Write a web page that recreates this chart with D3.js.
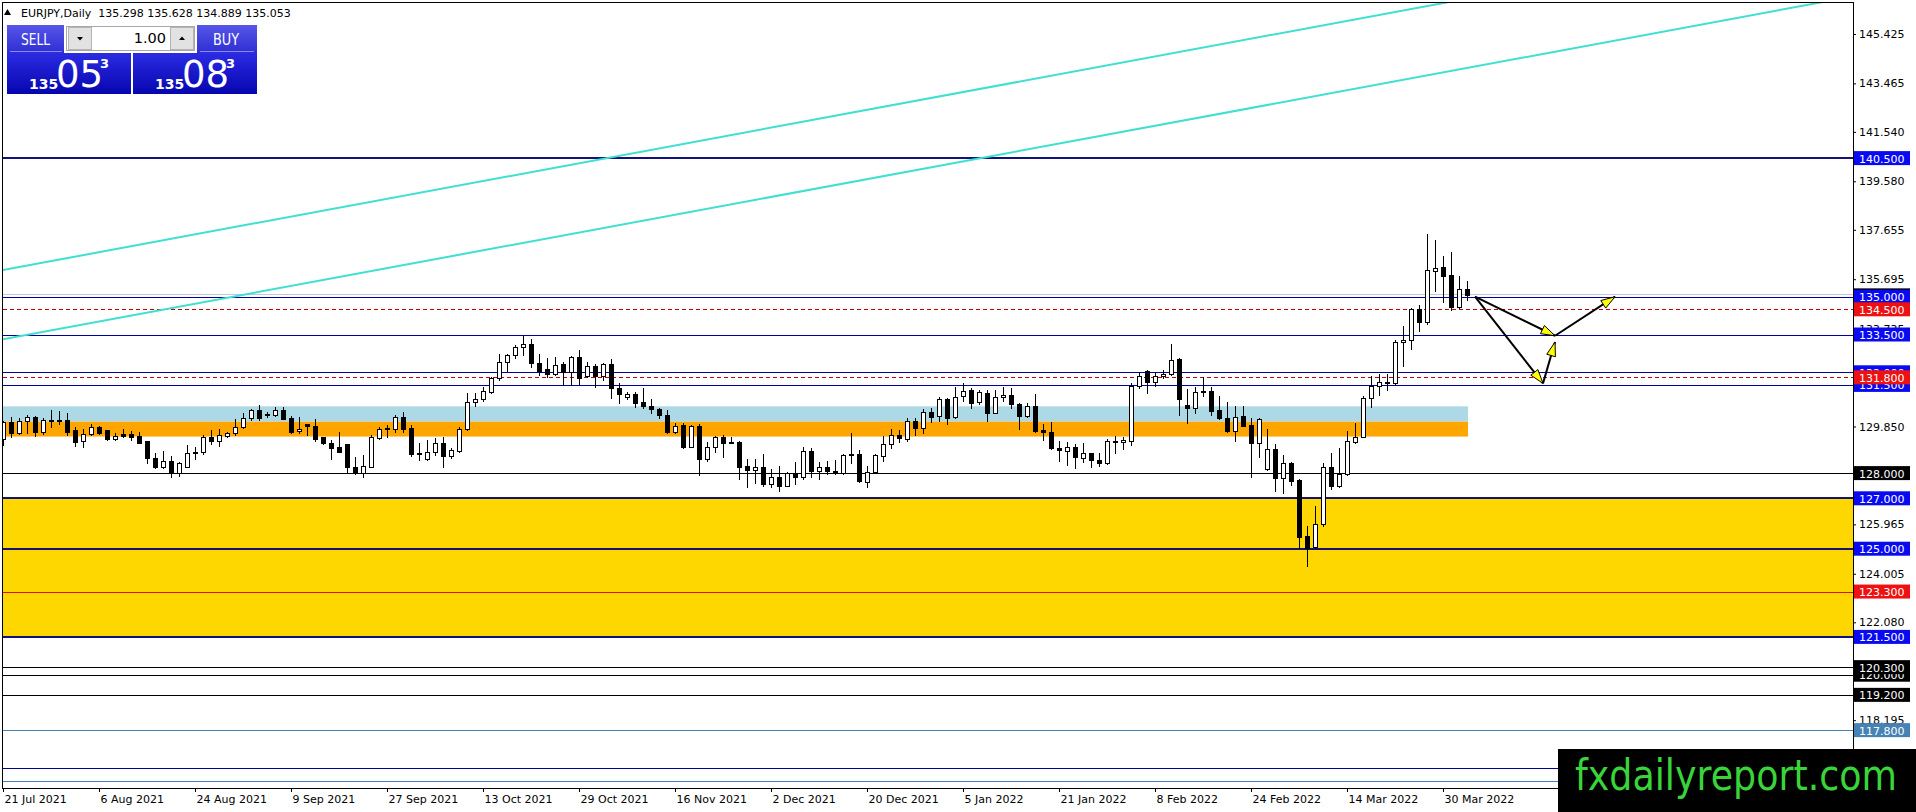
<!DOCTYPE html>
<html>
<head>
<meta charset="utf-8">
<script src="https://cdn.jsdelivr.net/npm/d3@7"></script>
<style>
html, body { margin: 0; padding: 0; background: #fff; overflow: hidden; }
svg { display: block; }
text { font-family: "DejaVu Sans", sans-serif; }
</style>
</head>
<body>
<svg id="chart" width="1916" height="812"></svg>
<script>
// layout
var W = 1916, H = 812;
var plotLeft = 3, plotRight = 1853, plotTop = 3, plotBottom = 788;
var barStep = 8;
var markTop = 749; // top of the watermark box

// header
var symbolTitle = "EURJPY,Daily";
var ohlcTitle = [135.298, 135.628, 134.889, 135.053];
var lotSize = "1.00";
var sellPrice = 135.053;
var buyPrice = 135.083;

// daily candles, bar 0 = 21 Jul 2021
var openVals = [129.34,130.02,129.58,130.07,130.21,129.65,130.11,130.11,130.11,129.71,
  129.29,129.55,129.82,129.71,129.34,129.54,129.54,129.47,129.28,128.61,
  128.26,128.48,128.02,128.26,128.83,128.83,129.42,129.29,129.49,129.58,
  129.84,130.17,130.51,130.35,130.32,130.51,130.17,129.67,129.94,129.87,
  129.42,129.18,129.02,129.16,128.26,128.02,128.26,129.41,129.74,129.75,
  130.21,129.78,128.79,128.55,128.83,129.18,128.69,128.89,129.74,130.81,
  130.93,131.23,131.76,132.42,132.69,132.99,133.11,132.36,132.12,131.93,
  132.33,132.00,132.62,131.87,132.25,131.87,132.33,131.37,131.01,131.14,
  130.84,130.66,130.53,130.31,129.65,129.91,129.02,129.87,128.55,129.02,
  129.42,129.25,129.22,128.28,128.12,128.24,127.57,127.83,127.50,127.99,
  127.86,128.88,128.10,128.24,128.07,127.99,128.76,128.75,127.63,128.06,
  128.69,129.14,129.51,129.34,130.08,129.78,130.44,130.27,130.94,130.21,
  131.04,131.30,130.81,131.17,130.40,131.01,131.10,130.76,130.28,130.66,
  129.71,129.65,128.98,128.88,129.05,128.61,128.79,128.52,128.39,129.29,
  129.22,129.29,131.46,132.07,131.63,131.85,131.93,132.53,130.70,130.57,
  131.26,131.26,130.51,130.17,129.69,130.27,129.91,129.21,128.15,128.94,
  127.79,128.39,127.73,125.50,125.06,125.98,128.23,127.50,127.97,129.25,
  129.45,130.97,131.47,131.60,131.56,133.19,133.28,134.50,134.01,136.03,
  136.17,135.86,134.61,135.298];
var highVals = [130.06,130.21,130.17,130.31,130.27,130.17,130.51,130.47,130.37,129.82,
  129.75,129.94,129.87,129.71,129.58,129.74,129.69,129.65,129.28,128.81,
  128.89,128.68,128.46,129.12,129.05,129.51,129.71,129.74,129.65,130.13,
  130.40,130.53,130.70,130.44,130.61,130.64,130.27,130.21,129.94,130.15,
  129.45,129.31,129.65,129.16,128.65,128.72,129.51,129.82,129.91,130.31,
  130.41,129.91,129.21,129.31,129.38,129.45,128.98,129.84,131.17,131.19,
  131.41,131.83,132.73,132.73,133.08,133.44,133.31,132.73,132.56,132.62,
  132.40,132.65,132.89,132.42,132.33,132.36,132.52,131.56,131.23,131.23,
  131.37,130.94,130.57,130.51,130.00,129.98,129.91,129.95,129.25,129.47,
  129.51,129.42,129.28,128.55,128.55,128.75,128.15,128.28,128.06,128.43,
  129.05,128.98,128.46,128.49,128.52,128.75,129.61,128.92,128.28,128.76,
  129.47,129.74,129.71,130.17,130.17,130.53,130.57,131.01,130.97,131.41,
  131.56,131.37,131.30,131.30,131.30,131.41,131.37,130.80,130.80,131.14,
  129.95,130.04,129.29,129.25,129.16,129.18,128.81,128.79,129.34,129.47,
  129.45,131.56,132.03,132.09,132.03,132.09,133.12,132.56,131.33,131.43,
  131.83,131.43,131.06,130.84,130.66,130.66,130.17,130.20,129.74,129.16,
  128.72,128.46,127.75,125.90,126.70,128.42,128.81,128.98,129.69,129.98,
  131.06,131.85,131.93,131.93,133.28,133.84,134.54,134.67,137.49,137.25,
  136.62,136.76,135.82,135.628];
var lowVals = [129.12,129.42,129.54,129.61,129.47,129.55,129.84,129.95,129.51,129.09,
  129.05,129.51,129.54,129.31,129.31,129.45,129.31,129.18,128.42,128.19,
  128.19,127.86,127.90,128.26,128.55,128.76,129.16,129.08,129.42,129.51,
  129.80,130.11,130.11,130.21,130.27,130.13,129.61,129.61,129.51,129.29,
  129.16,128.55,128.85,128.06,127.97,127.86,128.23,129.34,129.42,129.65,
  129.65,128.68,128.52,128.52,128.72,128.26,128.59,128.85,129.71,130.66,
  130.88,131.19,131.70,132.07,132.56,132.69,132.20,131.89,131.80,131.89,
  131.50,131.50,131.54,131.83,131.41,131.70,130.97,130.77,130.94,130.61,
  130.57,130.37,130.17,129.61,129.61,128.98,129.02,127.93,128.49,128.85,
  128.63,129.18,127.75,127.44,127.60,127.49,127.46,127.30,127.49,127.57,
  127.75,127.86,127.75,127.97,127.97,127.97,128.39,127.66,127.46,128.02,
  128.49,128.98,129.25,129.29,129.51,129.58,130.04,130.08,129.95,130.17,
  130.88,130.57,130.74,130.08,130.37,130.88,130.57,129.74,130.24,129.65,
  129.31,128.94,128.49,128.32,128.19,128.46,128.26,128.28,128.36,128.81,
  128.94,129.12,131.37,131.19,131.46,131.76,131.89,130.31,129.98,130.37,
  131.06,130.31,130.13,129.65,129.29,129.87,127.86,128.65,128.12,127.30,
  127.23,127.53,125.02,124.31,125.02,125.90,127.36,127.46,127.93,129.21,
  129.42,130.61,131.10,131.30,131.54,132.25,132.91,133.65,133.92,135.24,
  134.80,134.47,134.54,134.889];
var closeVals = [130.04,129.58,130.07,130.21,129.65,130.11,130.07,130.07,129.65,129.25,
  129.54,129.82,129.58,129.34,129.49,129.49,129.45,129.21,128.59,128.26,
  128.48,128.06,128.39,128.79,128.79,129.42,129.28,129.51,129.58,129.84,
  130.17,130.51,130.20,130.29,130.51,130.15,129.65,129.75,129.87,129.35,
  129.18,129.01,128.85,128.23,127.99,128.28,129.42,129.74,129.78,130.21,
  129.75,128.76,128.75,128.83,129.18,128.69,128.92,129.74,130.81,130.94,
  131.26,131.76,132.42,132.69,132.99,133.11,132.38,132.07,131.93,132.29,
  132.00,132.62,131.76,132.25,131.87,132.33,131.37,131.13,131.13,130.80,
  130.66,130.53,130.31,129.65,129.88,129.02,129.87,128.55,129.05,129.42,
  129.21,129.21,128.23,128.12,128.24,127.57,127.83,127.50,127.99,127.86,
  128.88,128.10,128.23,128.10,128.02,128.72,128.71,127.70,128.06,128.72,
  129.14,129.51,129.41,130.08,129.78,130.44,130.24,130.94,130.17,131.01,
  131.27,130.80,131.23,130.40,131.01,131.10,130.73,130.28,130.66,129.69,
  129.65,128.98,128.92,129.02,128.63,128.79,128.52,128.39,129.29,129.22,
  129.31,131.46,131.85,131.63,131.85,131.93,132.49,130.93,130.57,131.21,
  131.21,130.48,130.17,129.69,130.24,129.88,129.21,130.13,128.94,127.79,
  128.39,127.70,125.48,125.02,125.98,128.23,127.50,127.97,129.29,129.45,
  130.97,131.47,131.60,131.56,133.19,133.28,134.50,134.01,136.06,136.15,
  135.82,134.58,135.29,135.053];

// time axis
var dateLabels = ["21 Jul 2021","6 Aug 2021","24 Aug 2021","9 Sep 2021","27 Sep 2021",
  "13 Oct 2021","29 Oct 2021","16 Nov 2021","2 Dec 2021","20 Dec 2021","5 Jan 2022",
  "21 Jan 2022","8 Feb 2022","24 Feb 2022","14 Mar 2022","30 Mar 2022"];
var dateBars = [0,12,24,36,48,60,72,84,96,108,120,132,144,156,168,180];

// price axis
var priceTicks = [145.425,143.465,141.540,139.580,137.655,135.695,133.735,131.800,
  129.850,127.925,125.965,124.005,122.080,120.120,118.195];

// horizontal levels (drawn in this order)
var levelValues = [140.5,135.0,134.5,133.5,132.0,131.5,131.8,128.0,127.0,125.0,123.3,121.5,120.0,120.3,119.2,117.8,116.3,115.8];
var levelKinds = ["major","minor","dash","minor","minor","minor","dash","black","major","major","red","major","black","black","black","steel","minor","steel"];

// shaded zones
var zoneLow = [121.5, 129.45, 130.05];
var zoneHigh = [127.0, 130.05, 130.65];
var zoneEndBar = [null, 183, 183];
var zoneKinds = ["gold", "orange", "blue"];

// channel lines (two anchor points each)
var trendBars = [[0, 180], [0, 180]];
var trendPrices = [[136.06, 146.65], [133.31, 143.90]];

// projected path
var projBars = [[184, 194, 201.5], [184, 192.5, 194]];
var projPrices = [[135.0, 133.45, 135.0], [135.0, 131.56, 133.2]];

var levelStyle = {
  major: {stroke: "#12127a", width: 2, label: "#0a0af0"},
  minor: {stroke: "#00009c", width: 1, label: "#0a0af0"},
  dash:  {stroke: "#c00000", width: 1, dash: "4,3", label: "#ee1111"},
  red:   {stroke: "#e01010", width: 1, label: "#ee1111"},
  black: {stroke: "#000000", width: 1, label: "#000000"},
  steel: {stroke: "#4682b4", width: 1, label: "#4682b4"}
};
var zoneFill = {gold: "#ffd700", orange: "#ffa500", blue: "#add8e6"};

var svg = d3.select("#chart");

var x = d3.scaleLinear().domain([0, 1]).range([plotLeft, plotLeft + barStep]);
var y = d3.scaleLinear().domain([115.504, 146.655]).range([plotBottom, plotTop]);

function cy(v) { return Math.round(y(v)) + 0.5; }

var defs = svg.append("defs");
defs.append("clipPath").attr("id", "plotClip")
  .append("rect").attr("x", plotLeft).attr("y", plotTop)
  .attr("width", plotRight - plotLeft).attr("height", plotBottom - plotTop);

var g1 = defs.append("linearGradient").attr("id", "btnGrad").attr("x1", 0).attr("y1", 0).attr("x2", 0).attr("y2", 1);
g1.append("stop").attr("offset", "0%").attr("stop-color", "#5656e8");
g1.append("stop").attr("offset", "100%").attr("stop-color", "#2e2ed4");
var g2 = defs.append("linearGradient").attr("id", "priceGrad").attr("x1", 0).attr("y1", 0).attr("x2", 0).attr("y2", 1);
g2.append("stop").attr("offset", "0%").attr("stop-color", "#2b2be2");
g2.append("stop").attr("offset", "100%").attr("stop-color", "#0606b0");

svg.append("rect").attr("width", W).attr("height", H).attr("fill", "#fff");

var plot = svg.append("g").attr("clip-path", "url(#plotClip)");

// zones
zoneLow.forEach(function(lo, k) {
  var x0 = x(0);
  var x1 = zoneEndBar[k] == null ? plotRight : x(zoneEndBar[k]) + 1;
  plot.append("rect")
    .attr("x", x0).attr("width", x1 - x0)
    .attr("y", y(zoneHigh[k])).attr("height", y(lo) - y(zoneHigh[k]))
    .attr("fill", zoneFill[zoneKinds[k]]);
});

// levels
levelValues.forEach(function(v, k) {
  var st = levelStyle[levelKinds[k]];
  var yy = st.width == 2 ? Math.round(y(v)) : cy(v);
  plot.append("line")
    .attr("x1", plotLeft).attr("x2", plotRight)
    .attr("y1", yy).attr("y2", yy)
    .attr("stroke", st.stroke).attr("stroke-width", st.width)
    .attr("stroke-dasharray", st.dash || null);
});

// bid line
plot.append("line")
  .attr("x1", plotLeft).attr("x2", plotRight)
  .attr("y1", cy(ohlcTitle[3]) - 1).attr("y2", cy(ohlcTitle[3]) - 1)
  .attr("stroke", "#c4c4e6").attr("stroke-width", 1);

// channel lines, extended to the right
trendBars.forEach(function(b, k) {
  var p = trendPrices[k];
  var slope = (p[1] - p[0]) / (b[1] - b[0]);
  var endBar = (plotRight - plotLeft) / barStep;
  plot.append("line")
    .attr("x1", x(b[0])).attr("y1", y(p[0]))
    .attr("x2", x(endBar)).attr("y2", y(p[0] + slope * (endBar - b[0])))
    .attr("stroke", "#40e0d0").attr("stroke-width", 2);
});

// candles
var candles = openVals.map(function(o, i) {
  return {i: i, o: o, h: highVals[i], l: lowVals[i], c: closeVals[i]};
});

plot.selectAll(".wick").data(candles).enter().append("line")
  .attr("class", "wick")
  .attr("x1", function(d) { return x(d.i) + 0.5; })
  .attr("x2", function(d) { return x(d.i) + 0.5; })
  .attr("y1", function(d) { return Math.round(y(d.h)); })
  .attr("y2", function(d) { return Math.round(y(d.l)) + 1; })
  .attr("stroke", "#000").attr("stroke-width", 1);

plot.selectAll(".body").data(candles).enter().append("rect")
  .attr("class", "body")
  .attr("x", function(d) { return x(d.i) - 1.5; })
  .attr("width", 4)
  .attr("y", function(d) { return Math.round(y(Math.max(d.o, d.c))) + 0.5; })
  .attr("height", function(d) {
    return Math.max(1, Math.round(y(Math.min(d.o, d.c))) - Math.round(y(Math.max(d.o, d.c))));
  })
  .attr("fill", function(d) { return d.c >= d.o ? "#fff" : "#000"; })
  .attr("stroke", "#000").attr("stroke-width", 1);

// projected arrows
projBars.forEach(function(bars, k) {
  var pts = bars.map(function(b, j) { return [x(b), y(projPrices[k][j])]; });
  for (var j = 1; j < pts.length; j++) {
    var a = pts[j - 1], b = pts[j];
    plot.append("line")
      .attr("x1", a[0]).attr("y1", a[1]).attr("x2", b[0]).attr("y2", b[1])
      .attr("stroke", "#000").attr("stroke-width", 2);
    var dx = b[0] - a[0], dy = b[1] - a[1], len = Math.sqrt(dx * dx + dy * dy);
    var ux = dx / len, uy = dy / len;
    var bx = b[0] - ux * 14, by = b[1] - uy * 14;
    var tri = [[b[0], b[1]], [bx - uy * 4.5, by + ux * 4.5], [bx + uy * 4.5, by - ux * 4.5]];
    plot.append("polygon")
      .attr("points", tri.map(function(p) { return p.join(","); }).join(" "))
      .attr("fill", "#ffff00").attr("stroke", "#000").attr("stroke-width", 1);
  }
});

// frame
svg.append("rect")
  .attr("x", plotLeft - 0.5).attr("y", plotTop - 0.5)
  .attr("width", plotRight - plotLeft + 1).attr("height", plotBottom - plotTop + 1)
  .attr("fill", "none").attr("stroke", "#000");

// price axis
var yAxis = d3.axisRight(y).tickValues(priceTicks).tickFormat(d3.format(".3f"))
  .tickSize(3).tickPadding(3).tickSizeOuter(0);
var ya = svg.append("g").attr("transform", "translate(" + plotRight + ",0)").call(yAxis);
ya.select(".domain").remove();
ya.selectAll("text").attr("font-family", "DejaVu Sans").attr("font-size", 11).attr("fill", "#000");

// level labels (the ones under the watermark box are not shown)
function priceLabel(v, color) {
  var yy = y(v);
  if (yy + 7 > markTop) return;
  svg.append("rect").attr("x", plotRight + 1).attr("y", yy - 7).attr("width", 56).attr("height", 14)
    .attr("fill", color);
  svg.append("text").attr("x", plotRight + 6).attr("y", yy + 4.5)
    .attr("font-size", 11).attr("fill", "#fff").text(d3.format(".3f")(v));
}
priceLabel(ohlcTitle[3], "#000");
levelValues.forEach(function(v, k) { priceLabel(v, levelStyle[levelKinds[k]].label); });

// time axis
var xAxis = d3.axisBottom(x).tickValues(dateBars)
  .tickFormat(function(d, i) { return dateLabels[i]; })
  .tickSize(4).tickPadding(3).tickSizeOuter(0);
var xa = svg.append("g").attr("transform", "translate(0," + plotBottom + ")").call(xAxis);
xa.select(".domain").remove();
xa.selectAll("text").attr("text-anchor", "start").attr("dx", 1)
  .attr("font-family", "DejaVu Sans").attr("font-size", 11).attr("fill", "#000");

// title line
svg.append("path").attr("d", "M4,15 L11,15 L7.5,9 Z").attr("fill", "#000");
svg.append("text").attr("x", 21).attr("y", 16.5).attr("font-size", 11).attr("fill", "#000")
  .text(symbolTitle + "\u00a0\u00a0" + ohlcTitle.map(d3.format(".3f")).join(" "));

// trade panel
var panel = svg.append("g").attr("font-family", "Liberation Sans, Arial, sans-serif");
panel.append("rect").attr("x", 7).attr("y", 25).attr("width", 57).attr("height", 28).attr("fill", "url(#btnGrad)");
panel.append("rect").attr("x", 197).attr("y", 25).attr("width", 60).attr("height", 28).attr("fill", "url(#btnGrad)");
panel.append("line").attr("x1", 10).attr("x2", 62).attr("y1", 51.5).attr("y2", 51.5).attr("stroke", "#8a8aee");
panel.append("line").attr("x1", 200).attr("x2", 254).attr("y1", 51.5).attr("y2", 51.5).attr("stroke", "#8a8aee");
panel.append("rect").attr("x", 66.5).attr("y", 26.5).attr("width", 128).attr("height", 24)
  .attr("fill", "#fff").attr("stroke", "#a8a8a8");
panel.append("rect").attr("x", 68.5).attr("y", 27.5).attr("width", 23).attr("height", 22)
  .attr("fill", "#e2e2e2").attr("stroke", "#b4b4b4");
panel.append("rect").attr("x", 170.5).attr("y", 27.5).attr("width", 23).attr("height", 22)
  .attr("fill", "#e2e2e2").attr("stroke", "#b4b4b4");
panel.append("path").attr("d", "M77,37 L83,37 L80,40.5 Z").attr("fill", "#000");
panel.append("path").attr("d", "M179,40 L185,40 L182,36.5 Z").attr("fill", "#000");
panel.append("text").attr("x", 166).attr("y", 42.5).attr("text-anchor", "end")
  .attr("font-size", 14.5).attr("fill", "#000").text(lotSize);
panel.append("text").attr("x", 21).attr("y", 45).attr("font-size", 15).attr("fill", "#fff")
  .attr("textLength", 29).attr("lengthAdjust", "spacingAndGlyphs").text("SELL");
panel.append("text").attr("x", 213).attr("y", 45).attr("font-size", 15).attr("fill", "#fff")
  .attr("textLength", 26).attr("lengthAdjust", "spacingAndGlyphs").text("BUY");

function priceBox(x0, price) {
  var s = d3.format(".3f")(price);
  panel.append("rect").attr("x", x0).attr("y", 53).attr("width", 124).attr("height", 41)
    .attr("fill", "url(#priceGrad)");
  panel.append("text").attr("x", x0 + 22).attr("y", 88.5).attr("font-size", 14)
    .attr("font-weight", "bold").attr("fill", "#fff").text(s.slice(0, 3));
  panel.append("text").attr("x", x0 + 49).attr("y", 87).attr("font-size", 37)
    .attr("fill", "#fff").text(s.slice(4, 6));
  panel.append("text").attr("x", x0 + 93).attr("y", 67.5).attr("font-size", 13)
    .attr("font-weight", "bold").attr("fill", "#fff").text(s.slice(6));
}
priceBox(7, sellPrice);
priceBox(133, buyPrice);

// watermark
svg.append("rect").attr("x", 1558).attr("y", markTop).attr("width", W - 1558).attr("height", H - markTop).attr("fill", "#000");
svg.append("text").attr("x", 1575).attr("y", 790)
  .attr("font-family", "Liberation Sans, Arial, sans-serif").attr("font-size", 42)
  .attr("textLength", 322).attr("lengthAdjust", "spacingAndGlyphs")
  .attr("fill", "#39d439").text("fxdailyreport.com");
</script>
</body>
</html>
